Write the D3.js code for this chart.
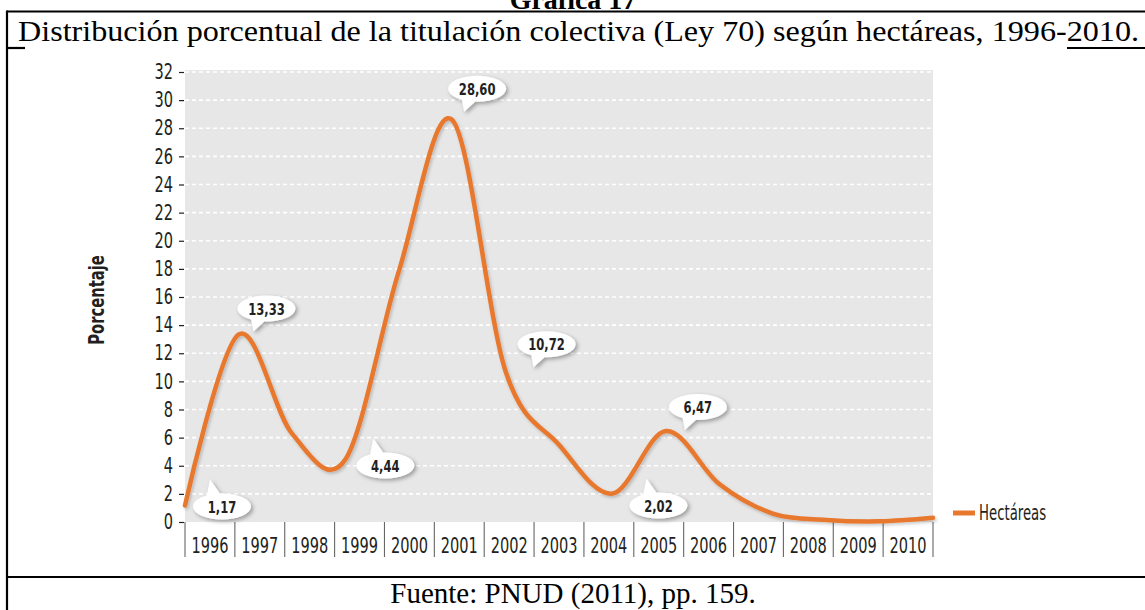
<!DOCTYPE html>
<html>
<head>
<meta charset="utf-8">
<script src="https://cdn.jsdelivr.net/npm/d3@7"></script>
<style>
  body { margin: 0; background: #fff; }
  svg { display: block; }
  .narrow { font-family: "Liberation Sans Narrow", "DejaVu Sans Condensed", "DejaVu Sans", sans-serif; }
  .serif { font-family: "Liberation Serif", "Times New Roman", serif; }
</style>
</head>
<body>
<div id="chart"></div>
<script>
// data
const years = ["1996", "1997", "1998", "1999", "2000", "2001", "2002", "2003",
  "2004", "2005", "2006", "2007", "2008", "2009", "2010"];
const hectareas = [1.17, 13.33, 6.3, 4.44, 17.8, 28.60, 10.72, 5.5, 2.02, 6.47, 2.7, 0.6, 0.15, 0.05, 0.3];
const yTicks = [0, 2, 4, 6, 8, 10, 12, 14, 16, 18, 20, 22, 24, 26, 28, 30, 32];
const calloutYears = ["1996", "1997", "1999", "2001", "2002", "2004", "2005"];
const calloutText = ["1,17", "13,33", "4,44", "28,60", "10,72", "2,02", "6,47"];

// bubble placement relative to its point: dx, dy, tail up(-1)/down(1)
const bubblePlace = {
  "1996": [37, 1, -1],
  "1997": [28, -26, 1],
  "1999": [40, 6, -1],
  "2001": [25, -31, 1],
  "2002": [41, -27, 1],
  "2004": [46, 12, -1],
  "2005": [32, -24, 1]
};

const W = 1145, H = 610;
const orange = "#e8782e";
const ink = "#231f20";
// the original uses a condensed face; squeeze what we have
const SQ = 0.77;

// squeeze text horizontally, keeping its x anchor in place
function squeeze(sel, s) {
  sel.each(function() {
    let t = d3.select(this);
    let x0 = +t.attr("x") || 0;
    t.attr("x", x0 / s).attr("transform", "scale(" + s + ",1)");
  });
}

let svg = d3.select("#chart").append("svg")
  .attr("width", W)
  .attr("height", H);

let defs = svg.append("defs");
defs.append("filter").attr("id", "shadow")
  .attr("x", "-30%").attr("y", "-30%").attr("width", "160%").attr("height", "160%")
  .append("feDropShadow")
  .attr("dx", 2).attr("dy", 2).attr("stdDeviation", 2)
  .attr("flood-color", "#000").attr("flood-opacity", 0.35);
defs.append("filter").attr("id", "lineShadow")
  .attr("x", "-10%").attr("y", "-10%").attr("width", "120%").attr("height", "120%")
  .append("feDropShadow")
  .attr("dx", 1.5).attr("dy", 2).attr("stdDeviation", 1.5)
  .attr("flood-color", "#000").attr("flood-opacity", 0.2);

/////////////////////////////////////////
// table frame
svg.append("text")
  .attr("class", "serif")
  .attr("x", 573).attr("y", 9)
  .attr("text-anchor", "middle")
  .attr("font-size", 28).attr("font-weight", "bold")
  .text("Gráfica 17");

let frame = svg.append("g").attr("stroke", "#000").attr("stroke-width", 2.2);
frame.append("line").attr("x1", 7).attr("x2", W).attr("y1", 11.5).attr("y2", 11.5);
frame.append("line").attr("x1", 7).attr("x2", 7).attr("y1", 10.5).attr("y2", H);
frame.append("line").attr("x1", 7).attr("x2", 25).attr("y1", 48).attr("y2", 48);
frame.append("line").attr("x1", 1067).attr("x2", W).attr("y1", 48).attr("y2", 48);
frame.append("line").attr("x1", 7).attr("x2", W).attr("y1", 577).attr("y2", 577);

svg.append("text")
  .attr("class", "serif")
  .attr("x", 18).attr("y", 41)
  .attr("font-size", 29)
  .attr("textLength", 1121)
  .attr("lengthAdjust", "spacingAndGlyphs")
  .text("Distribución porcentual de la titulación colectiva (Ley 70) según hectáreas, 1996-2010.");

svg.append("text")
  .attr("class", "serif")
  .attr("x", 573).attr("y", 603)
  .attr("text-anchor", "middle")
  .attr("font-size", 29)
  .text("Fuente: PNUD (2011), pp. 159.");

/////////////////////////////////////////
// scales
const plotL = 185, plotR = 933, plotT = 72, plotB = 522;
let x = d3.scalePoint().domain(years).range([plotL, plotR]);
let band = d3.scaleBand().domain(years).range([plotL, plotR]);
let y = d3.scaleLinear().domain([0, 32]).range([plotB, plotT]);

// plot background
svg.append("rect")
  .attr("x", plotL).attr("y", plotT - 2)
  .attr("width", plotR - plotL).attr("height", plotB - plotT + 2)
  .attr("fill", "#e7e7e7");

// dashed white grid
svg.append("g")
  .selectAll("line")
  .data(yTicks.filter(d => d > 0))
  .enter()
  .append("line")
  .attr("x1", plotL).attr("x2", plotR)
  .attr("y1", d => y(d)).attr("y2", d => y(d))
  .attr("stroke", "#fff")
  .attr("stroke-width", 1.6)
  .attr("stroke-dasharray", "4,3");

// y axis
let yAxis = svg.append("g")
  .attr("class", "narrow")
  .attr("transform", "translate(184,0)")
  .call(d3.axisLeft(y).tickValues(yTicks).tickSize(5).tickPadding(6));
yAxis.select(".domain").remove();
yAxis.attr("font-family", null).attr("font-size", null);
yAxis.selectAll(".tick line").attr("stroke", ink).attr("stroke-width", 1.2);
yAxis.selectAll(".tick text")
  .attr("font-size", 21)
  .attr("fill", ink)
  .call(squeeze, SQ);

svg.append("text")
  .attr("class", "narrow")
  .attr("transform", "translate(104,300) rotate(-90) scale(0.78,1)")
  .attr("text-anchor", "middle")
  .attr("font-size", 21)
  .attr("font-weight", "bold")
  .attr("fill", ink)
  .text("Porcentaje");

// x axis: separators between year bands
svg.append("g")
  .selectAll("line")
  .data(years.map(d => band(d)).concat([plotR]))
  .enter()
  .append("line")
  .attr("x1", d => d).attr("x2", d => d)
  .attr("y1", plotB).attr("y2", 557)
  .attr("stroke", "#666")
  .attr("stroke-width", 1.1);

let xAxis = svg.append("g")
  .attr("class", "narrow")
  .attr("transform", "translate(0," + plotB + ")")
  .call(d3.axisBottom(band).tickSize(0));
xAxis.select(".domain").remove();
xAxis.attr("font-family", null).attr("font-size", null);
xAxis.selectAll(".tick text")
  .attr("y", 31).attr("dy", 0)
  .attr("font-size", 21)
  .attr("fill", ink)
  .call(squeeze, SQ);

/////////////////////////////////////////
// the line
let line = d3.line()
  .x((d, i) => x(years[i]))
  .y(d => y(d))
  .curve(d3.curveCatmullRom.alpha(0));

svg.append("path")
  .datum(hectareas)
  .attr("d", line)
  .attr("fill", "none")
  .attr("stroke", orange)
  .attr("stroke-width", 4.5)
  .attr("stroke-linecap", "round")
  .attr("filter", "url(#lineShadow)");

/////////////////////////////////////////
// callout bubbles
const rx = 29, ry = 13;
let bubbles = svg.append("g")
  .selectAll("g")
  .data(calloutYears)
  .enter()
  .append("g")
  .attr("transform", function(d) {
    let p = bubblePlace[d];
    let v = hectareas[years.indexOf(d)];
    return "translate(" + (x(d) + p[0]) + "," + (y(v) + p[1]) + ")";
  });

let shapes = bubbles.append("g").attr("filter", "url(#shadow)").attr("fill", "#fff");
shapes.append("ellipse").attr("rx", rx).attr("ry", ry);
shapes.append("path")
  .attr("d", function(d) {
    let dir = bubblePlace[d][2];
    if (dir > 0) {
      return "M-16," + (ry - 6) + " L-13," + (ry + 10) + " L-2," + ry + " Z";
    }
    return "M-16," + (-ry + 6) + " L-12," + (-ry - 14) + " L-2," + (-ry) + " Z";
  });

bubbles.append("text")
  .attr("class", "narrow")
  .attr("text-anchor", "middle")
  .attr("y", 6)
  .attr("font-size", 16.5)
  .attr("font-weight", "bold")
  .attr("fill", ink)
  .text((d, i) => calloutText[i])
  .call(squeeze, 0.78);

/////////////////////////////////////////
// legend
svg.append("line")
  .attr("x1", 953).attr("x2", 975)
  .attr("y1", 513).attr("y2", 513)
  .attr("stroke", orange)
  .attr("stroke-width", 5);

svg.append("text")
  .attr("class", "narrow")
  .attr("x", 979).attr("y", 520)
  .attr("font-size", 20.5)
  .attr("fill", ink)
  .text("Hectáreas")
  .call(squeeze, 0.72);
</script>
</body>
</html>
